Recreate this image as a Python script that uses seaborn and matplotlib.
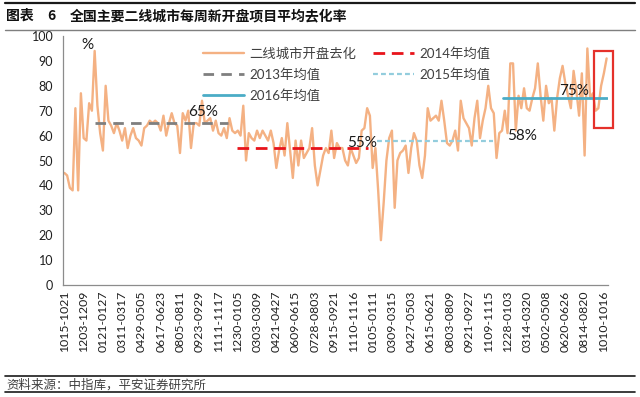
import numpy as np
import pandas as pd
import matplotlib
matplotlib.use("Agg")
import matplotlib.pyplot as plt
import seaborn as sns
from matplotlib.lines import Line2D
from matplotlib.patches import Rectangle

# ---------------- data ----------------
tick_labels = ["1015-1021", "1203-1209", "0121-0127", "0311-0317", "0429-0505",
               "0617-0623", "0805-0811", "0923-0929", "1111-1117", "1230-0105",
               "0303-0309", "0421-0427", "0609-0615", "0728-0803", "0915-0921",
               "1110-1116", "0105-0111", "0309-0315", "0427-0503", "0615-0621",
               "0803-0809", "0921-0927", "1109-1115", "1228-0103", "0314-0320",
               "0502-0508", "0620-0626", "0814-0820", "1010-1016"]
label_step = 7

rate = [45, 44, 39, 38, 71, 38, 77, 59, 58, 73,
        70, 94, 72, 61, 54, 80, 66, 64, 61, 65,
        62, 58, 63, 55, 60, 63, 59, 58, 56, 63,
        64, 66, 65, 66, 65, 62, 68, 60, 65, 69,
        65, 64, 53, 69, 66, 70, 55, 65, 65, 64,
        74, 65, 66, 67, 62, 66, 61, 60, 63, 59,
        67, 62, 61, 62, 60, 72, 50, 61, 59, 58,
        62, 59, 62, 60, 58, 62, 57, 47, 54, 59,
        52, 65, 54, 43, 58, 48, 58, 51, 53, 55,
        63, 48, 40, 46, 52, 55, 53, 62, 51, 57,
        55, 55, 50, 48, 55, 52, 49, 51, 62, 63,
        71, 68, 47, 55, 38, 18, 33, 50, 59, 62,
        31, 50, 53, 54, 56, 45, 55, 61, 58, 48,
        43, 52, 71, 66, 67, 68, 66, 74, 66, 57,
        56, 58, 62, 54, 74, 67, 65, 63, 56, 67,
        74, 59, 66, 71, 80, 71, 69, 51, 61, 62,
        70, 61, 89, 89, 62, 76, 71, 79, 71, 70,
        75, 79, 89, 76, 66, 80, 73, 75, 62, 75,
        83, 88, 81, 76, 71, 86, 78, 68, 85, 52,
        95, 75, 77, 70, 71, 80, 85, 91]

series_name = "二线城市开盘去化"
mean_names = ["2013年均值", "2014年均值", "2015年均值", "2016年均值"]
mean_values = [65, 55, 58, 75]
mean_start = [11, 62.6, 113.4, 159.3]   # category range covered by each mean line
mean_end = [59.4, 110.3, 155.7, 197]
mean_texts = ["65%", "55%", "58%", "75%"]

# ---------------- style ----------------
sns.set_style("white")
plt.rcParams['font.family'] = ['Lato', 'Noto Sans CJK SC', 'DejaVu Sans']
plt.rcParams['axes.unicode_minus'] = False

W, H = 640, 397
fig = plt.figure(figsize=(6.4, 3.97), dpi=100)
ax = fig.add_axes([63 / W, 1 - 285 / H, 545 / W, 249 / H])

n = len(rate)
df = pd.DataFrame({"idx": np.arange(n), "rate": rate})
sns.lineplot(data=df, x="idx", y="rate", ax=ax, color="#F4B183", linewidth=1.7)

mean_colors = ["#7F7F7F", "#E8141B", "#93CDDD", "#4BACC6"]
mean_lw = [2.0, 2.0, 1.6, 2.0]
mean_dashes = [(3.8, 2.6), (4.2, 2.4), (2.2, 1.4), None]
mean_handles = []
for name, v, s, e, c, lw, d in zip(mean_names, mean_values, mean_start, mean_end,
                                   mean_colors, mean_lw, mean_dashes):
    mdf = pd.DataFrame({"idx": [s, e], "rate": [v, v]})
    sns.lineplot(data=mdf, x="idx", y="rate", ax=ax, color=c, linewidth=lw)
    ln = ax.lines[-1]
    if d is not None:
        ln.set_dashes(d)
    h = Line2D([0], [0], color=c, linewidth=lw)
    if d is not None:
        h.set_dashes(d)
    mean_handles.append(h)

# percentage annotations
text_pos = [(50.3, 69.5), (108.1, 57), (166.2, 60), (185.1, 78)]
for t, (xx, yy) in zip(mean_texts, text_pos):
    ax.text(xx, yy, t, fontsize=11, color="#1a1a1a", ha="center", va="center",
            family=['Lato', 'DejaVu Sans'])

# red highlight box
ax.add_patch(Rectangle((192.4, 63), 6.9, 31, fill=False, edgecolor="#E5312B",
                       linewidth=1.6, clip_on=False, zorder=5))

# axes
ax.set_xlim(-0.5, n - 0.5)
ax.set_ylim(0, 100)
ax.set_yticks(range(0, 101, 10))
ax.set_xticks(np.arange(0, n, label_step)[:len(tick_labels)])
ax.set_xticklabels(tick_labels, rotation=90, fontsize=8.8, color="#1f1f1f")
ax.set_xticks(np.arange(-0.5, n, 1), minor=True)
ax.tick_params(axis="x", which="major", length=0, pad=4)
ax.tick_params(axis="x", which="minor", length=3.5, width=0.6, color="#8c8c8c",
               direction="out")
ax.tick_params(axis="y", which="major", length=4, width=0.8, color="#8c8c8c",
               direction="out", labelsize=9, labelcolor="#1f1f1f", pad=3)
ax.set_xlabel("")
ax.set_ylabel("")
sns.despine(ax=ax)
for sp in ["left", "bottom"]:
    ax.spines[sp].set_color("#8c8c8c")
    ax.spines[sp].set_linewidth(0.9)
ax.text(0.033, 0.962, "%", transform=ax.transAxes, fontsize=11, color="#1a1a1a",
        ha="left", va="center")

# legend (3 rows x 2 cols, column-major fill)
main_handle = Line2D([0], [0], color="#F4B183", linewidth=1.7)
handles = [main_handle, mean_handles[0], mean_handles[3], mean_handles[1], mean_handles[2]]
labels = [series_name, mean_names[0], mean_names[3], mean_names[1], mean_names[2]]
leg = fig.legend(handles, labels, ncol=2, loc="upper left",
                 bbox_to_anchor=(203 / W, 1 - 47 / H), frameon=False,
                 fontsize=9.6, handlelength=3.1, handletextpad=0.4,
                 columnspacing=1.2, labelspacing=0.62, borderpad=0,
                 borderaxespad=0)
for t in leg.get_texts():
    t.set_color("#404040")
    t.set_family(['Lato', 'Noto Sans CJK SC'])

# title and source, with rules
cjk = ['Noto Sans CJK SC', 'DejaVu Sans']
fig.text(6 / W, 1 - 16 / H, "图表", fontsize=10, fontweight="bold", va="center",
         family=cjk, color="#111111")
fig.text(47 / W, 1 - 16 / H, "6", fontsize=10, fontweight="bold", va="center",
         family=cjk, color="#111111")
fig.text(70 / W, 1 - 16 / H, "全国主要二线城市每周新开盘项目平均去化率", fontsize=10,
         fontweight="bold", va="center", family=cjk, color="#111111")
fig.text(6 / W, 1 - 385 / H, "资料来源：中指库，平安证券研究所", fontsize=9,
         va="center", family=cjk, color="#404040", style="italic")

for y, c, lw in [(3, "#1a1a1a", 1.6), (29.5, "#7f7f7f", 1.0),
                 (376, "#1a1a1a", 1.2), (392, "#1a1a1a", 1.2)]:
    fig.add_artist(Line2D([5 / W, 635 / W], [1 - y / H, 1 - y / H],
                          transform=fig.transFigure, color=c, linewidth=lw))

fig.savefig("out.png", dpi=100)
